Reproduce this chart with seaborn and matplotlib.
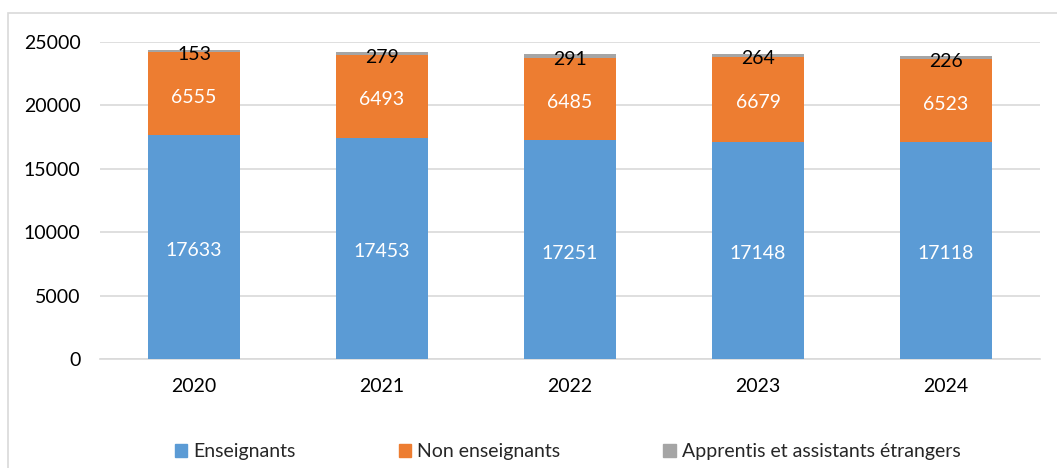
import numpy as np
import pandas as pd
import matplotlib
matplotlib.use("Agg")
import matplotlib.pyplot as plt
import matplotlib.patches as mpatches
import seaborn as sns

years = ["2020", "2021", "2022", "2023", "2024"]
enseignants = [17633, 17453, 17251, 17148, 17118]
non_enseignants = [6555, 6493, 6485, 6679, 6523]
apprentis = [153, 279, 291, 264, 226]

series_names = ["Enseignants", "Non enseignants", "Apprentis et assistants étrangers"]
colors = ["#5B9BD5", "#ED7D31", "#A5A5A5"]
label_colors = ["white", "white", "black"]

sns.set_style("white")
plt.rcParams["font.family"] = ["Lato", "DejaVu Sans"]

fig = plt.figure(figsize=(10.57, 4.68), dpi=100)
ax = fig.add_axes([0.0946, 0.2329, 0.8894, 0.6774])

# chart frame like the spreadsheet export
frame = mpatches.Rectangle((8 / 1057, -0.05), 1.2, 1 - 13 / 468 + 0.05,
                           transform=fig.transFigure, fill=False,
                           edgecolor="#d9d9d9", linewidth=1.2, zorder=0)
fig.patches.append(frame)

bottom = np.zeros(len(years))
for vals, name, col, lc in zip([enseignants, non_enseignants, apprentis],
                               series_names, colors, label_colors):
    df = pd.DataFrame({"year": years, "value": vals})
    sns.barplot(data=df, x="year", y="value", color=col, width=0.49,
                bottom=bottom, ax=ax, saturation=1, linewidth=0, zorder=3)
    cont = ax.containers[-1]
    lbls = ax.bar_label(cont, labels=[str(v) for v in vals], label_type="center",
                        color=lc, fontsize=14, zorder=4)
    # labels sit slightly below the segment centre in the original
    for t in lbls:
        t.set_position((0, -2.5))
    bottom = bottom + np.array(vals)

ax.set_ylim(0, 25000)
ax.set_yticks(range(0, 25001, 5000))
ax.yaxis.grid(True, color="#d9d9d9", linewidth=1.2, zorder=0)
ax.set_axisbelow(True)
for s in ["top", "right", "left"]:
    ax.spines[s].set_visible(False)
ax.spines["bottom"].set_color("#d9d9d9")
ax.spines["bottom"].set_linewidth(1.2)
ax.tick_params(axis="both", length=0, labelsize=14, colors="black")
ax.tick_params(axis="y", pad=14)
ax.tick_params(axis="x", pad=14)
ax.set_xlabel("")
ax.set_ylabel("")

handles = [mpatches.Patch(color=c, label=n) for c, n in zip(colors, series_names)]
fig.legend(handles=handles, loc="center", bbox_to_anchor=(0.537, 1 - 452 / 468),
           ncol=3, frameon=False, fontsize=14, handlelength=0.65,
           handleheight=0.65, handletextpad=0.3, columnspacing=5.3)

fig.savefig("out.png", dpi=100)
